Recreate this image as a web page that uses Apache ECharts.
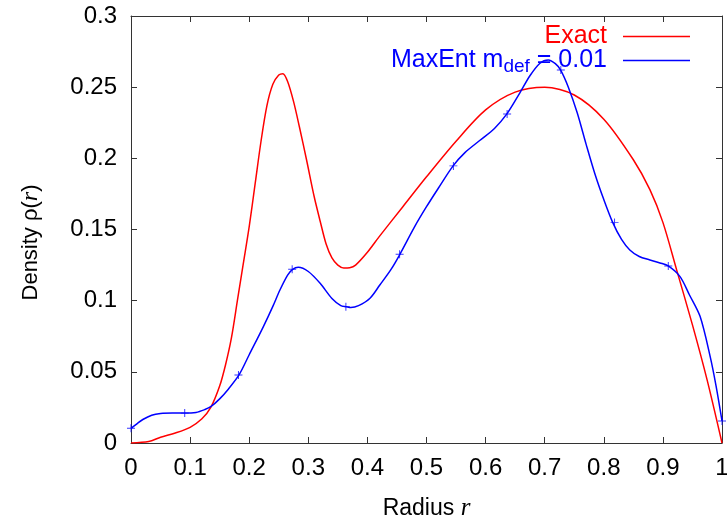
<!DOCTYPE html>
<html>
<head>
<meta charset="utf-8">
<script src="https://cdn.jsdelivr.net/npm/echarts@6/dist/echarts.min.js"></script>
<style>html,body{margin:0;padding:0;background:#fff}#c{width:727px;height:521px}</style>
</head>
<body>
<div id="c"></div>
<script>
// Exact density
const exactX = [0, 0.03, 0.05, 0.075, 0.1, 0.12, 0.135, 0.15, 0.16, 0.17, 0.18, 0.19, 0.2, 0.21, 0.22, 0.23, 0.24, 0.25, 0.257, 0.265, 0.275, 0.285, 0.297, 0.31, 0.32, 0.33, 0.34, 0.35, 0.36, 0.37, 0.38, 0.4, 0.42, 0.46, 0.5, 0.55, 0.6, 0.65, 0.7, 0.75, 0.8, 0.85, 0.878, 0.9, 0.923, 0.95, 0.975, 1.0];
const exactY = [0, 0.001, 0.004, 0.007, 0.011, 0.017, 0.025, 0.040, 0.055, 0.074, 0.100, 0.126, 0.152, 0.182, 0.212, 0.237, 0.252, 0.2585, 0.2595, 0.254, 0.240, 0.222, 0.199, 0.173, 0.156, 0.140, 0.130, 0.125, 0.123, 0.1232, 0.125, 0.134, 0.145, 0.166, 0.187, 0.212, 0.234, 0.2465, 0.2499, 0.2445, 0.2275, 0.199, 0.178, 0.155, 0.122, 0.083, 0.044, 0];
// MaxEnt curve
const maxentX = [0, 0.01, 0.02, 0.035, 0.05, 0.07, 0.09, 0.11, 0.125, 0.135, 0.15, 0.165, 0.183, 0.2, 0.224, 0.24, 0.252, 0.265, 0.2735, 0.283, 0.3, 0.32, 0.34, 0.355, 0.364, 0.372, 0.385, 0.4044, 0.421, 0.44, 0.455, 0.48, 0.5, 0.52, 0.545, 0.565, 0.59, 0.615, 0.636, 0.658, 0.675, 0.692, 0.706, 0.718, 0.727, 0.74, 0.755, 0.77, 0.785, 0.8, 0.815, 0.83, 0.844, 0.86, 0.878, 0.895, 0.909, 0.929, 0.945, 0.963, 0.98, 0.99, 1.0];
const maxentY = [0.0103, 0.0135, 0.0165, 0.0195, 0.0207, 0.021, 0.021, 0.0215, 0.0235, 0.0255, 0.031, 0.038, 0.048, 0.062, 0.0818, 0.096, 0.1075, 0.118, 0.122, 0.1235, 0.1205, 0.1122, 0.1015, 0.0965, 0.0958, 0.0952, 0.0965, 0.1017, 0.111, 0.122, 0.1326, 0.152, 0.166, 0.179, 0.1947, 0.204, 0.2125, 0.221, 0.2312, 0.246, 0.258, 0.2668, 0.2691, 0.2665, 0.262, 0.250, 0.232, 0.210, 0.189, 0.171, 0.155, 0.143, 0.1356, 0.131, 0.1286, 0.1265, 0.1244, 0.1169, 0.104, 0.0888, 0.0607, 0.040, 0.0155];
// MaxEnt grid points (+ markers)
const markX = [0, 0.0909, 0.1818, 0.2727, 0.3636, 0.4545, 0.5455, 0.6364, 0.7273, 0.8182, 0.9091, 1.0];
const markY = [0.0103, 0.021, 0.0478, 0.122, 0.0958, 0.1326, 0.1947, 0.2312, 0.262, 0.155, 0.1244, 0.0155];
const xTicks = [0, 0.1, 0.2, 0.3, 0.4, 0.5, 0.6, 0.7, 0.8, 0.9, 1];
const yTicks = [0, 0.05, 0.1, 0.15, 0.2, 0.25, 0.3];

const zip = (a, b) => a.map((v, i) => [v, b[i]]);
const FONT = 'Liberation Sans';
const axisCol = '#333';
const chart = echarts.init(document.getElementById('c'));
const plus = 'path://M-1,-0.12 L1,-0.12 L1,0.12 L-1,0.12 Z M-0.12,-1 L0.12,-1 L0.12,1 L-0.12,1 Z';
const baseAxis = {
  axisLine: {show: true, onZero: false, lineStyle: {color: axisCol, width: 1}},
  axisTick: {show: true, inside: true, length: 6, lineStyle: {color: axisCol}},
  splitLine: {show: false}
};
chart.setOption({
  animation: false,
  textStyle: {fontFamily: FONT},
  grid: {left: 131, right: 5, top: 16, bottom: 78, containLabel: false, outerBoundsMode: 'none'},
  legend: [
    {data: [{name: 'Exact', textStyle: {color: '#ff0000'}}], right: 32, top: 19, align: 'right', icon: 'rect', itemWidth: 67, itemHeight: 1.5,
     textStyle: {fontSize: 25, fontFamily: FONT, padding: [0, 11, 0, 0]}},
    {data: [{name: 'MaxEnt', textStyle: {color: '#0000ff'}}], right: 32, top: 43, align: 'right', icon: 'rect', itemWidth: 67, itemHeight: 1.5,
     formatter: () => '{a|MaxEnt m}{s|def}{a| = 0.01}',
     textStyle: {fontSize: 25, fontFamily: FONT, color: '#0000ff', padding: [0, 11, 0, 0],
       rich: {a: {fontSize: 25, fontFamily: FONT, color: '#0000ff'}, s: {fontSize: 19, fontFamily: FONT, color: '#0000ff', padding: [12, 0, 0, 0]}}}}
  ],
  xAxis: [
    Object.assign({}, baseAxis, {type: 'value', min: 0, max: 1, interval: 0.1, position: 'bottom',
      name: '{a|Radius }{i|r}', nameLocation: 'middle', nameGap: 53,
      nameTextStyle: {rich: {a: {fontSize: 23, fontFamily: FONT, color: '#000'}, i: {fontSize: 25, fontFamily: 'Liberation Serif', fontStyle: 'italic', color: '#000'}}},
      axisLabel: {fontSize: 24, color: '#000', margin: 13, fontFamily: FONT,
        formatter: v => { const t = xTicks.find(k => Math.abs(k - v) < 1e-9); return t === undefined ? '' : String(t); }}}),
    Object.assign({}, baseAxis, {type: 'value', min: 0, max: 1, interval: 0.1, position: 'top', axisLabel: {show: false}})
  ],
  yAxis: [
    Object.assign({}, baseAxis, {type: 'value', min: 0, max: 0.3, interval: 0.05, position: 'left',
      name: '{a|Density ρ(}{i|r}{a|)}', nameLocation: 'middle', nameGap: 88,
      nameTextStyle: {padding: [0, 26, 0, 0], rich: {a: {fontSize: 22, fontFamily: FONT, color: '#000'}, i: {fontSize: 24, fontFamily: 'Liberation Serif', fontStyle: 'italic', color: '#000'}}},
      axisLabel: {fontSize: 24, color: '#000', margin: 14, fontFamily: FONT,
        formatter: v => { const t = yTicks.find(k => Math.abs(k - v) < 1e-9); return t === undefined ? '' : String(t); }}}),
    Object.assign({}, baseAxis, {type: 'value', min: 0, max: 0.3, interval: 0.05, position: 'right', axisLabel: {show: false}})
  ],
  series: [
    {name: 'Exact', type: 'line', data: zip(exactX, exactY), smooth: 0.3, showSymbol: false, symbol: 'none',
     lineStyle: {color: '#ff0000', width: 1.5}, itemStyle: {color: '#ff0000'}, z: 3},
    {name: 'MaxEnt', type: 'line', data: zip(maxentX, maxentY), smooth: 0.3, showSymbol: false, symbol: 'none',
     lineStyle: {color: '#0000ff', width: 1.5}, itemStyle: {color: '#0000ff'}, z: 4},
    {name: 'MaxEnt points', type: 'scatter', data: zip(markX, markY), symbol: plus, symbolSize: 8,
     itemStyle: {color: '#0000ff'}, z: 5}
  ]
});
</script>
</body>
</html>
